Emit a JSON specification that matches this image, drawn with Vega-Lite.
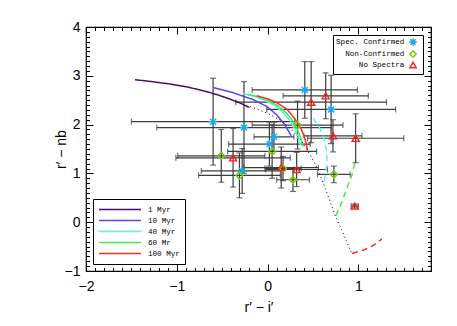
{
 "$schema": "https://vega.github.io/schema/vega-lite/v6.json",
 "width": 345,
 "height": 244,
 "autosize": "none",
 "padding": {"left": 86, "top": 27, "right": 26, "bottom": 55},
 "background": "white",
 "config": {"view": {"stroke": "black", "strokeWidth": 1.2}, "font": "Liberation Sans"},
 "datasets": {
  "pts": [
   {"x": -0.60, "y": 2.06, "xerr": 0.90, "yerr": 0.89, "cat": "Spec. Confirmed"},
   {"x": -0.26, "y": 1.94, "xerr": 0.96, "yerr": 0.94, "cat": "Spec. Confirmed"},
   {"x": 0.41, "y": 2.71, "xerr": 0.58, "yerr": 0.58, "cat": "Spec. Confirmed"},
   {"x": 0.70, "y": 2.31, "xerr": 0.71, "yerr": 0.70, "cat": "Spec. Confirmed"},
   {"x": 0.07, "y": 1.75, "xerr": 0.22, "yerr": 0.30, "cat": "Spec. Confirmed"},
   {"x": 0.02, "y": 1.60, "xerr": 0.45, "yerr": 0.45, "cat": "Spec. Confirmed"},
   {"x": -0.28, "y": 1.05, "xerr": 0.45, "yerr": 0.46, "cat": "Spec. Confirmed"},
   {"x": -0.51, "y": 1.36, "xerr": 0.48, "yerr": 0.54, "cat": "Non-Confirmed"},
   {"x": 0.05, "y": 1.45, "xerr": 0.49, "yerr": 0.55, "cat": "Non-Confirmed"},
   {"x": -0.31, "y": 0.96, "xerr": 0.45, "yerr": 0.46, "cat": "Non-Confirmed"},
   {"x": 0.28, "y": 0.87, "xerr": 0.18, "yerr": 0.24, "cat": "Non-Confirmed"},
   {"x": 0.73, "y": 0.98, "xerr": 0.18, "yerr": 0.17, "cat": "Non-Confirmed"},
   {"x": 0.33, "y": 1.99, "xerr": 0.50, "yerr": 0.49, "cat": "Non-Confirmed"},
   {"x": 0.17, "y": 1.10, "xerr": 0.20, "yerr": 0.25, "cat": "Non-Confirmed"},
   {"x": 0.64, "y": 2.59, "xerr": 0.47, "yerr": 0.47, "cat": "No Spectra"},
   {"x": 0.48, "y": 2.46, "xerr": 0.83, "yerr": 0.83, "cat": "No Spectra"},
   {"x": 0.72, "y": 1.77, "xerr": 0.32, "yerr": 0.33, "cat": "No Spectra"},
   {"x": 0.97, "y": 1.72, "xerr": 0.53, "yerr": 0.50, "cat": "No Spectra"},
   {"x": 0.15, "y": 1.12, "xerr": 0.41, "yerr": 0.42, "cat": "No Spectra"},
   {"x": 0.32, "y": 1.08, "xerr": 0.34, "yerr": 0.35, "cat": "No Spectra"},
   {"x": -0.38, "y": 1.32, "xerr": 0.63, "yerr": 0.60, "cat": "No Spectra"},
   {"x": 0.96, "y": 0.33, "xerr": 0.04, "yerr": 0.04, "cat": "No Spectra"}
  ],
  "iso": [
   {"model": "1 Myr", "part": "solid", "seg": "1s", "i": 0, "x": -1.46, "y": 2.92},
   {"model": "1 Myr", "part": "solid", "seg": "1s", "i": 1, "x": -1.27, "y": 2.88},
   {"model": "1 Myr", "part": "solid", "seg": "1s", "i": 2, "x": -1.07, "y": 2.83},
   {"model": "1 Myr", "part": "solid", "seg": "1s", "i": 3, "x": -0.88, "y": 2.77},
   {"model": "1 Myr", "part": "solid", "seg": "1s", "i": 4, "x": -0.70, "y": 2.69},
   {"model": "1 Myr", "part": "solid", "seg": "1s", "i": 5, "x": -0.55, "y": 2.61},
   {"model": "1 Myr", "part": "solid", "seg": "1s", "i": 6, "x": -0.41, "y": 2.52},
   {"model": "1 Myr", "part": "solid", "seg": "1s", "i": 7, "x": -0.30, "y": 2.44},
   {"model": "1 Myr", "part": "solid", "seg": "1s", "i": 8, "x": -0.20, "y": 2.35},
   {"model": "10 Myr", "part": "solid", "seg": "10s", "i": 0, "x": -0.60, "y": 2.76},
   {"model": "10 Myr", "part": "solid", "seg": "10s", "i": 1, "x": -0.375, "y": 2.65},
   {"model": "10 Myr", "part": "solid", "seg": "10s", "i": 2, "x": -0.155, "y": 2.51},
   {"model": "10 Myr", "part": "solid", "seg": "10s", "i": 3, "x": -0.007, "y": 2.37},
   {"model": "10 Myr", "part": "solid", "seg": "10s", "i": 4, "x": 0.10, "y": 2.20},
   {"model": "10 Myr", "part": "solid", "seg": "10s", "i": 5, "x": 0.177, "y": 2.03},
   {"model": "10 Myr", "part": "solid", "seg": "10s", "i": 6, "x": 0.23, "y": 1.87},
   {"model": "10 Myr", "part": "solid", "seg": "10s", "i": 7, "x": 0.26, "y": 1.77},
   {"model": "40 Myr", "part": "solid", "seg": "40s", "i": 0, "x": -0.27, "y": 2.64},
   {"model": "40 Myr", "part": "solid", "seg": "40s", "i": 1, "x": -0.15, "y": 2.58},
   {"model": "40 Myr", "part": "solid", "seg": "40s", "i": 2, "x": -0.03, "y": 2.50},
   {"model": "40 Myr", "part": "solid", "seg": "40s", "i": 3, "x": 0.08, "y": 2.39},
   {"model": "40 Myr", "part": "solid", "seg": "40s", "i": 4, "x": 0.17, "y": 2.25},
   {"model": "40 Myr", "part": "solid", "seg": "40s", "i": 5, "x": 0.25, "y": 2.07},
   {"model": "40 Myr", "part": "solid", "seg": "40s", "i": 6, "x": 0.30, "y": 1.90},
   {"model": "40 Myr", "part": "solid", "seg": "40s", "i": 7, "x": 0.34, "y": 1.73},
   {"model": "40 Myr", "part": "solid", "seg": "40s", "i": 8, "x": 0.36, "y": 1.58},
   {"model": "40 Myr", "part": "dashed", "seg": "40d", "i": 0, "x": 0.50, "y": 2.13},
   {"model": "40 Myr", "part": "dashed", "seg": "40d", "i": 1, "x": 0.57, "y": 1.95},
   {"model": "40 Myr", "part": "dashed", "seg": "40d", "i": 2, "x": 0.62, "y": 1.72},
   {"model": "40 Myr", "part": "dashed", "seg": "40d", "i": 3, "x": 0.65, "y": 1.45},
   {"model": "40 Myr", "part": "dashed", "seg": "40d", "i": 4, "x": 0.655, "y": 1.20},
   {"model": "40 Myr", "part": "dashed", "seg": "40d", "i": 5, "x": 0.64, "y": 1.00},
   {"model": "40 Myr", "part": "dashed", "seg": "40d", "i": 6, "x": 0.62, "y": 0.80},
   {"model": "60 Mr", "part": "solid", "seg": "60s", "i": 0, "x": -0.22, "y": 2.62},
   {"model": "60 Mr", "part": "solid", "seg": "60s", "i": 1, "x": -0.10, "y": 2.57},
   {"model": "60 Mr", "part": "solid", "seg": "60s", "i": 2, "x": 0.01, "y": 2.49},
   {"model": "60 Mr", "part": "solid", "seg": "60s", "i": 3, "x": 0.11, "y": 2.39},
   {"model": "60 Mr", "part": "solid", "seg": "60s", "i": 4, "x": 0.20, "y": 2.25},
   {"model": "60 Mr", "part": "solid", "seg": "60s", "i": 5, "x": 0.28, "y": 2.07},
   {"model": "60 Mr", "part": "solid", "seg": "60s", "i": 6, "x": 0.33, "y": 1.89},
   {"model": "60 Mr", "part": "solid", "seg": "60s", "i": 7, "x": 0.37, "y": 1.71},
   {"model": "60 Mr", "part": "solid", "seg": "60s", "i": 8, "x": 0.39, "y": 1.55},
   {"model": "60 Mr", "part": "dashed", "seg": "60d", "i": 0, "x": 0.96, "y": 1.21},
   {"model": "60 Mr", "part": "dashed", "seg": "60d", "i": 1, "x": 0.93, "y": 0.97},
   {"model": "60 Mr", "part": "dashed", "seg": "60d", "i": 2, "x": 0.88, "y": 0.73},
   {"model": "60 Mr", "part": "dashed", "seg": "60d", "i": 3, "x": 0.82, "y": 0.42},
   {"model": "60 Mr", "part": "dashed", "seg": "60d", "i": 4, "x": 0.75, "y": 0.12},
   {"model": "100 Myr", "part": "solid", "seg": "100s", "i": 0, "x": -0.12, "y": 2.59},
   {"model": "100 Myr", "part": "solid", "seg": "100s", "i": 1, "x": 0.00, "y": 2.53},
   {"model": "100 Myr", "part": "solid", "seg": "100s", "i": 2, "x": 0.10, "y": 2.45},
   {"model": "100 Myr", "part": "solid", "seg": "100s", "i": 3, "x": 0.21, "y": 2.32},
   {"model": "100 Myr", "part": "solid", "seg": "100s", "i": 4, "x": 0.30, "y": 2.12},
   {"model": "100 Myr", "part": "solid", "seg": "100s", "i": 5, "x": 0.37, "y": 1.91},
   {"model": "100 Myr", "part": "solid", "seg": "100s", "i": 6, "x": 0.41, "y": 1.72},
   {"model": "100 Myr", "part": "solid", "seg": "100s", "i": 7, "x": 0.43, "y": 1.58},
   {"model": "100 Myr", "part": "solid", "seg": "100s", "i": 8, "x": 0.44, "y": 1.47},
   {"model": "100 Myr", "part": "dashed", "seg": "100d", "i": 0, "x": 0.93, "y": -0.64},
   {"model": "100 Myr", "part": "dashed", "seg": "100d", "i": 1, "x": 1.06, "y": -0.57},
   {"model": "100 Myr", "part": "dashed", "seg": "100d", "i": 2, "x": 1.17, "y": -0.47},
   {"model": "100 Myr", "part": "dashed", "seg": "100d", "i": 3, "x": 1.26, "y": -0.34}
  ],
  "track": [
   {"i": 0, "x": -0.19, "y": 2.37},
   {"i": 1, "x": 0.00, "y": 2.23},
   {"i": 2, "x": 0.14, "y": 2.09},
   {"i": 3, "x": 0.25, "y": 1.92},
   {"i": 4, "x": 0.36, "y": 1.70},
   {"i": 5, "x": 0.45, "y": 1.44},
   {"i": 6, "x": 0.53, "y": 1.17},
   {"i": 7, "x": 0.60, "y": 0.87},
   {"i": 8, "x": 0.67, "y": 0.52},
   {"i": 9, "x": 0.75, "y": 0.11},
   {"i": 10, "x": 0.80, "y": -0.09},
   {"i": 11, "x": 0.86, "y": -0.35},
   {"i": 12, "x": 0.925, "y": -0.63}
  ]
 },
 "layer": [
  {
   "data": {"name": "pts"},
   "mark": {"type": "errorbar", "ticks": true, "size": 6, "thickness": 1.2, "color": "#3c3c3c"},
   "encoding": {
    "x": {"field": "x", "type": "quantitative", "scale": {"domain": [-2, 1.8], "nice": false, "zero": false}, "axis": null},
    "xError": {"field": "xerr"},
    "y": {"field": "y", "type": "quantitative", "scale": {"domain": [-1, 4], "nice": false, "zero": false}, "axis": null}
   }
  },
  {
   "data": {"name": "pts"},
   "mark": {"type": "errorbar", "ticks": true, "size": 6, "thickness": 1.2, "color": "#3c3c3c"},
   "encoding": {
    "x": {"field": "x", "type": "quantitative", "scale": {"domain": [-2, 1.8], "nice": false, "zero": false}, "axis": null},
    "y": {"field": "y", "type": "quantitative", "scale": {"domain": [-1, 4], "nice": false, "zero": false}, "axis": null},
    "yError": {"field": "yerr"}
   }
  },
  {
   "data": {"name": "iso"},
   "mark": {"type": "line", "strokeWidth": 1.5},
   "encoding": {
    "x": {"field": "x", "type": "quantitative", "scale": {"domain": [-2, 1.8], "nice": false, "zero": false},
     "axis": {"orient": "bottom", "values": [-2,-1.9,-1.8,-1.7,-1.6,-1.5,-1.4,-1.3,-1.2,-1.1,-1,-0.9,-0.8,-0.7,-0.6,-0.5,-0.4,-0.3,-0.2,-0.1,0,0.1,0.2,0.3,0.4,0.5,0.6,0.7,0.8,0.9,1,1.1,1.2,1.3,1.4,1.5,1.6,1.7,1.8],
      "title": "r′ − i′", "titleFontSize": 14, "titleFontWeight": "normal", "titleColor": "black", "titlePadding": 4,
      "domain": false, "grid": false, "ticks": true, "tickColor": "black", "tickWidth": 1,
      "tickSize": {"condition": {"test": "abs(datum.value - round(datum.value)) < 0.001", "value": -7}, "value": -3.5},
      "labelExpr": "abs(datum.value - round(datum.value)) < 0.001 ? format(datum.value, 'd') : ''",
      "labelFontSize": 14, "labelColor": "black", "labelPadding": 15, "labelFlush": false, "labelOverlap": false, "labelBound": false}},
    "y": {"field": "y", "type": "quantitative", "scale": {"domain": [-1, 4], "nice": false, "zero": false},
     "axis": {"orient": "left", "values": [-1,-0.9,-0.8,-0.7,-0.6,-0.5,-0.4,-0.3,-0.2,-0.1,0,0.1,0.2,0.3,0.4,0.5,0.6,0.7,0.8,0.9,1,1.1,1.2,1.3,1.4,1.5,1.6,1.7,1.8,1.9,2,2.1,2.2,2.3,2.4,2.5,2.6,2.7,2.8,2.9,3,3.1,3.2,3.3,3.4,3.5,3.6,3.7,3.8,3.9,4],
      "title": "r′ − nb", "titleFontSize": 14, "titleFontWeight": "normal", "titleColor": "black", "titlePadding": -4,
      "domain": false, "grid": false, "ticks": true, "tickColor": "black", "tickWidth": 1,
      "tickSize": {"condition": {"test": "abs(datum.value - round(datum.value)) < 0.001", "value": -7}, "value": -3.5},
      "labelExpr": "abs(datum.value - round(datum.value)) < 0.001 ? format(datum.value, 'd') : ''",
      "labelFontSize": 14, "labelColor": "black", "labelPadding": 13, "labelFlush": false, "labelOverlap": false, "labelBound": false}},
    "color": {"field": "model", "type": "nominal",
     "scale": {"domain": ["1 Myr", "10 Myr", "40 Myr", "60 Mr", "100 Myr"], "range": ["#4e0b66", "#5a48e6", "#55f5f5", "#44ee44", "#ff2a2a"]},
     "legend": {"title": null, "orient": "bottom-left", "offset": 7, "strokeColor": "black", "fillColor": "white", "padding": 5,
      "labelFont": "Liberation Mono", "labelFontSize": 7.6, "labelColor": "black",
      "symbolType": "M-1,0L7.4,0", "symbolSize": 100, "symbolStrokeWidth": 1.5, "labelOffset": 38, "clipHeight": 11, "rowPadding": 0}},
    "detail": {"field": "seg"},
    "strokeDash": {"field": "part", "type": "nominal", "scale": {"domain": ["solid", "dashed"], "range": [[1, 0], [6, 4]]}, "legend": null},
    "order": {"field": "i", "type": "quantitative"}
   }
  },
  {
   "data": {"name": "track"},
   "mark": {"type": "line", "color": "black", "strokeWidth": 1, "strokeDash": [1, 3]},
   "encoding": {
    "x": {"field": "x", "type": "quantitative", "scale": {"domain": [-2, 1.8], "nice": false, "zero": false},
     "axis": {"orient": "top", "values": [-2,-1.9,-1.8,-1.7,-1.6,-1.5,-1.4,-1.3,-1.2,-1.1,-1,-0.9,-0.8,-0.7,-0.6,-0.5,-0.4,-0.3,-0.2,-0.1,0,0.1,0.2,0.3,0.4,0.5,0.6,0.7,0.8,0.9,1,1.1,1.2,1.3,1.4,1.5,1.6,1.7,1.8],
      "title": null, "labels": false, "domain": false, "grid": false, "ticks": true, "tickColor": "black", "tickWidth": 1,
      "tickSize": {"condition": {"test": "abs(datum.value - round(datum.value)) < 0.001", "value": -7}, "value": -3.5}}},
    "y": {"field": "y", "type": "quantitative", "scale": {"domain": [-1, 4], "nice": false, "zero": false},
     "axis": {"orient": "right", "values": [-1,-0.9,-0.8,-0.7,-0.6,-0.5,-0.4,-0.3,-0.2,-0.1,0,0.1,0.2,0.3,0.4,0.5,0.6,0.7,0.8,0.9,1,1.1,1.2,1.3,1.4,1.5,1.6,1.7,1.8,1.9,2,2.1,2.2,2.3,2.4,2.5,2.6,2.7,2.8,2.9,3,3.1,3.2,3.3,3.4,3.5,3.6,3.7,3.8,3.9,4],
      "title": null, "labels": false, "domain": false, "grid": false, "ticks": true, "tickColor": "black", "tickWidth": 1,
      "tickSize": {"condition": {"test": "abs(datum.value - round(datum.value)) < 0.001", "value": -7}, "value": -3.5}}},
    "order": {"field": "i", "type": "quantitative"}
   }
  },
  {
   "data": {"name": "pts"},
   "mark": {"type": "point", "filled": false, "strokeWidth": 1.4, "size": 50, "opacity": 1},
   "encoding": {
    "x": {"field": "x", "type": "quantitative", "scale": {"domain": [-2, 1.8], "nice": false, "zero": false}, "axis": null},
    "y": {"field": "y", "type": "quantitative", "scale": {"domain": [-1, 4], "nice": false, "zero": false}, "axis": null},
    "stroke": {"field": "cat", "type": "nominal",
     "scale": {"domain": ["Spec. Confirmed", "Non-Confirmed", "No Spectra"], "range": ["#1ea8e4", "#6fd200", "#ff1e1e"]},
     "legend": {"title": null, "orient": "top-right", "offset": 8, "strokeColor": "black", "fillColor": "white", "padding": 3,
      "labelFont": "Liberation Mono", "labelFontSize": 7.6, "labelColor": "black", "labelAlign": "right", "labelOffset": -12.6,
      "symbolOffset": 73, "symbolSize": 40, "symbolStrokeWidth": 1.5, "rowPadding": -2}},
    "shape": {"field": "cat", "type": "nominal",
     "scale": {"domain": ["Spec. Confirmed", "Non-Confirmed", "No Spectra"], "range": ["M-1.2,0L1.2,0M0,-1.2L0,1.2M-0.85,-0.85L0.85,0.85M-0.85,0.85L0.85,-0.85", "diamond", "triangle-up"]},
     "legend": {"title": null, "orient": "top-right", "offset": 8, "strokeColor": "black", "fillColor": "white", "padding": 3,
      "labelFont": "Liberation Mono", "labelFontSize": 7.6, "labelColor": "black", "labelAlign": "right", "labelOffset": -12.6,
      "symbolOffset": 73, "symbolSize": 40, "symbolStrokeWidth": 1.5, "rowPadding": -2}}
   }
  }
 ],
 "resolve": {"axis": {"x": "independent", "y": "independent"}}
}
